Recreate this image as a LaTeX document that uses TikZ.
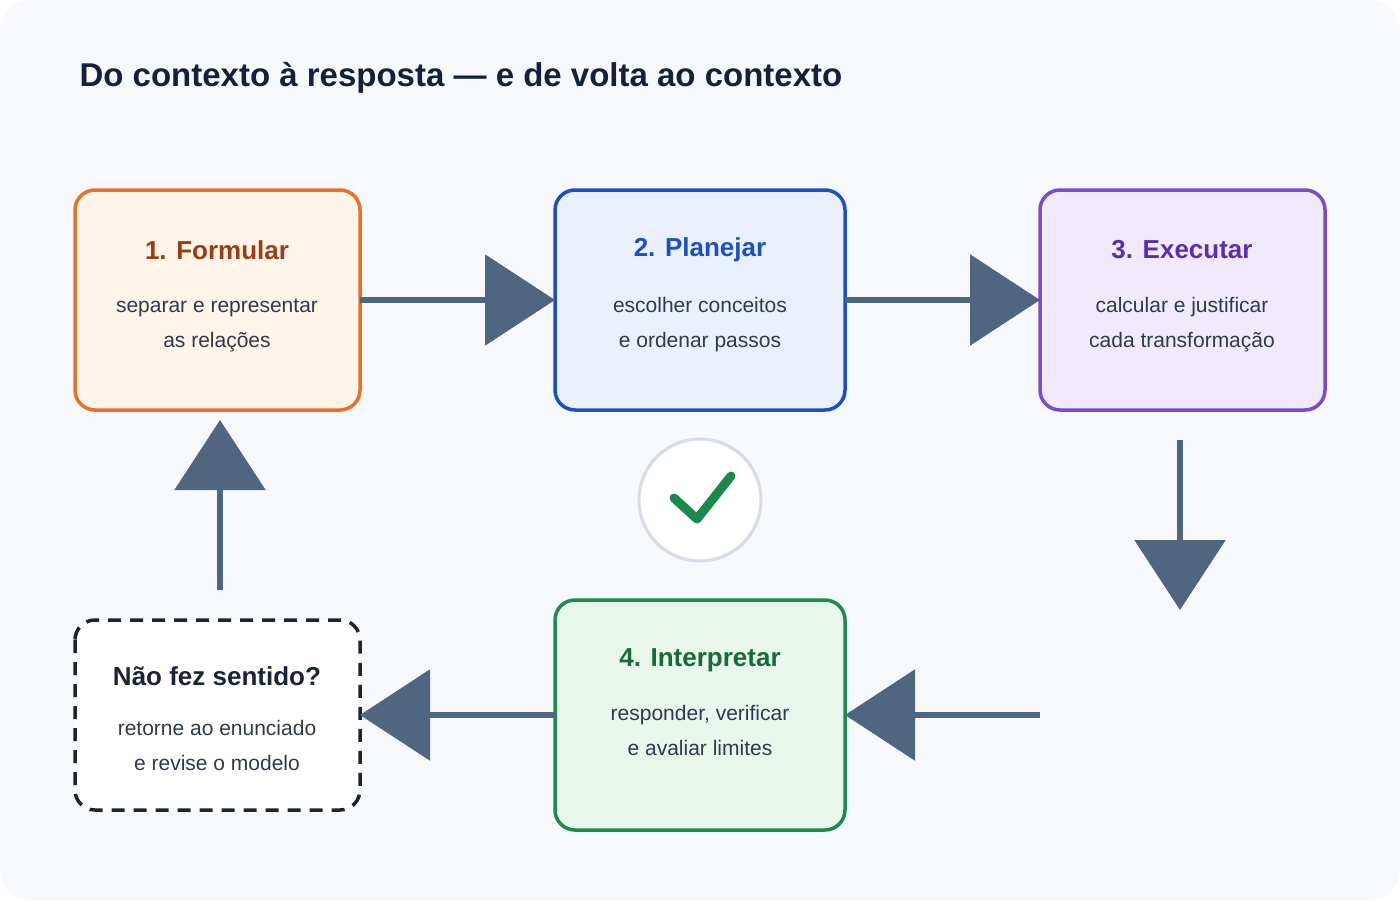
\documentclass[tikz,border=0pt]{standalone}
\usepackage{fontspec}
\setmainfont{Liberation Sans}
\usetikzlibrary{arrows.meta}
\definecolor{bgc}{HTML}{F6F8FC}
\definecolor{arr}{HTML}{506580}
\definecolor{ttl}{HTML}{15213A}
\definecolor{txt}{HTML}{2E3A4E}
\definecolor{oB}{HTML}{E8712A}\definecolor{oF}{HTML}{FFF4E8}\definecolor{oT}{HTML}{9A3E12}
\definecolor{bB}{HTML}{1D4FC4}\definecolor{bF}{HTML}{EAF1FD}\definecolor{bT}{HTML}{1D4FC4}
\definecolor{pB}{HTML}{7A4BD0}\definecolor{pF}{HTML}{F1EAFD}\definecolor{pT}{HTML}{5B2EB0}
\definecolor{gB}{HTML}{1E8A4E}\definecolor{gF}{HTML}{E8F6EC}\definecolor{gT}{HTML}{166B3A}
\definecolor{dB}{HTML}{1B2437}
\definecolor{ring}{HTML}{D5DCE8}
\definecolor{chk}{HTML}{1A8A4C}
\begin{document}
\begin{tikzpicture}[x=1pt,y=-1pt,
 box/.style={line width=3.5pt,rounded corners=20pt,inner sep=0pt},
 tt/.style={font=\fontsize{26}{30}\selectfont\bfseries,anchor=center},
 bd/.style={font=\fontsize{21}{35}\selectfont,text=txt,align=center,anchor=center},
 ar/.style={draw=arr,line width=6pt,-{Triangle[length=70pt,width=90pt]}}]
\useasboundingbox (0,0) rectangle (1400,900);
\fill[bgc,rounded corners=30pt] (0,0) rectangle (1400,900);
\node[anchor=west,font=\fontsize{33}{38}\selectfont\bfseries,text=ttl] (title) at (76,78) {Do contexto à resposta — e de volta ao contexto};
% boxes
\draw[box,draw=oB,fill=oF] (75,190) rectangle (360,410);
\draw[box,draw=bB,fill=bF] (555,190) rectangle (845,410);
\draw[box,draw=pB,fill=pF] (1040,190) rectangle (1325,410);
\draw[box,draw=gB,fill=gF] (555,600) rectangle (845,830);
\draw[box,draw=dB,fill=white,dash pattern=on 13pt off 9pt] (75,620) rectangle (360,810);
\coordinate (b1) at (217,300);\coordinate (b2) at (700,300);\coordinate (b3) at (1182,300);
\node (n1e) at (360,300) {};\node (n2w) at (555,300) {};\node (n2e) at (845,300) {};\node (n3w) at (1040,300) {};
\node[tt,text=oT] (t1) at (217,250) {1. Formular};
\node[bd] (d1) at (217,325) {separar e representar\\as relações};
\node[tt,text=bT] (t2) at (700,250) {2. Planejar};
\node[bd] (d2) at (700,325) {escolher conceitos\\e ordenar passos};
\node[tt,text=pT] (t3) at (1182,250) {3. Executar};
\node[bd] (d3) at (1182,325) {calcular e justificar\\cada transformação};
\node[tt,text=gT] (t4) at (700,660) {4. Interpretar};
\node[bd] (d4) at (700,730) {responder, verificar\\e avaliar limites};
\node[tt,text=dB] (t5) at (217,676) {Não fez sentido?};
\node[bd] (d5) at (217,745) {retorne ao enunciado\\e revise o modelo};
% check
\node[circle,draw=ring,line width=3pt,fill=white,minimum size=122pt] (ck) at (700,500) {};
\draw[chk,line width=9pt,line cap=round,line join=round] (674,498) -- (697,519) -- (731,476);
% arrows
\coordinate (a1s) at (360,300);\coordinate (a1e) at (555,300);
\coordinate (a2s) at (845,300);\coordinate (a2e) at (1040,300);
\coordinate (a3s) at (1180,440);\coordinate (a3e) at (1180,610);
\coordinate (a4s) at (1040,715);\coordinate (a4e) at (845,715);
\coordinate (a5s) at (555,715);\coordinate (a5e) at (360,715);
\coordinate (a6s) at (220,590);\coordinate (a6e) at (220,420);
\draw[ar] (a1s) -- (a1e);
\draw[ar] (a2s) -- (a2e);
\draw[ar] (a3s) -- (a3e);
\draw[ar] (a4s) -- (a4e);
\draw[ar] (a5s) -- (a5e);
\draw[ar] (a6s) -- (a6e);
\end{tikzpicture}
\end{document}
